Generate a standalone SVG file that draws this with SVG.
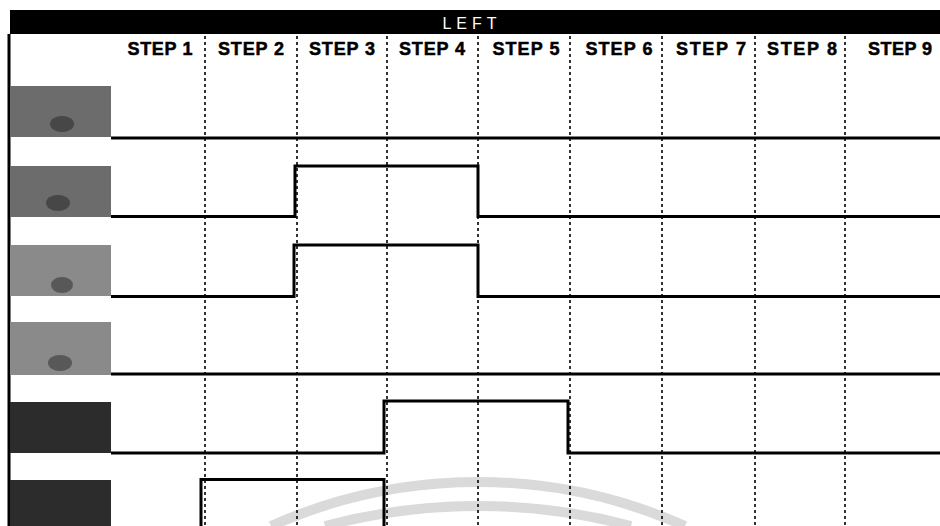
<svg xmlns="http://www.w3.org/2000/svg" width="940" height="526" viewBox="0 0 940 526">
<style>
.step{font-family:"Liberation Sans",Arial,sans-serif;font-weight:bold;font-size:18px;fill:#000;stroke:#000;stroke-width:0.5;text-anchor:middle}
.title{font-family:"Liberation Sans",Arial,sans-serif;font-size:16px;fill:#fff;text-anchor:middle;letter-spacing:5px}
.sep{stroke:#000;stroke-width:1.6;stroke-dasharray:3 3;fill:none}
.wave{stroke:#000;stroke-width:3;fill:none;stroke-linejoin:miter}
.wm{stroke:#dadada;stroke-width:10;fill:none}
.lab1{fill:#6c6c6c}
.lab2{fill:#8a8a8a}
.lab3{fill:#2c2c2c}
.blob{fill:#1a1a1a;opacity:0.45}
</style>
<rect width="940" height="526" fill="#fff"/>
<g id="watermark">
<path class="wm" d="M271,526 A509,509 0 0 1 685,526"/>
<path class="wm" d="M325,526 A595,595 0 0 1 631,526"/>
</g>
<g id="header">
<rect x="10" y="10" width="930" height="24" fill="#000"/>
<text class="title" x="472" y="29">LEFT</text>
<line x1="9" y1="34" x2="9" y2="526" stroke="#000" stroke-width="3"/>
</g>
<g id="steps">
<text class="step" x="160" y="55" textLength="65">STEP 1</text>
<text class="step" x="251" y="55" textLength="66">STEP 2</text>
<text class="step" x="342" y="55" textLength="66">STEP 3</text>
<text class="step" x="432" y="55" textLength="66">STEP 4</text>
<text class="step" x="526" y="55" textLength="67">STEP 5</text>
<text class="step" x="619" y="55" textLength="67">STEP 6</text>
<text class="step" x="711" y="55" textLength="70">STEP 7</text>
<text class="step" x="802" y="55" textLength="70">STEP 8</text>
<text class="step" x="900" y="55" textLength="64">STEP 9</text>
</g>
<g id="connectors">
<line class="sep" x1="205" y1="36" x2="205" y2="526"/>
<line class="sep" x1="297" y1="36" x2="297" y2="526"/>
<line class="sep" x1="387" y1="36" x2="387" y2="526"/>
<line class="sep" x1="478" y1="36" x2="478" y2="526"/>
<line class="sep" x1="570" y1="36" x2="570" y2="526"/>
<line class="sep" x1="662" y1="36" x2="662" y2="526"/>
<line class="sep" x1="755" y1="36" x2="755" y2="526"/>
<line class="sep" x1="845" y1="36" x2="845" y2="526"/>
</g>
<g id="row1">
<rect class="lab1" x="10" y="86" width="101" height="51"/>
<ellipse class="blob" cx="62" cy="124" rx="12" ry="8"/>
<path class="wave" d="M111,138 H940"/>
</g>
<g id="row2">
<rect class="lab1" x="10" y="166" width="101" height="51"/>
<ellipse class="blob" cx="58" cy="203" rx="12" ry="8"/>
<path class="wave" d="M111,216.5 H295 V166 H478 V216.5 H940"/>
</g>
<g id="row3">
<rect class="lab2" x="10" y="245" width="101" height="51"/>
<ellipse class="blob" cx="62" cy="285" rx="11" ry="8"/>
<path class="wave" d="M111,296.5 H294 V245 H478 V296.5 H940"/>
</g>
<g id="row4">
<rect class="lab2" x="10" y="322" width="101" height="53"/>
<ellipse class="blob" cx="60" cy="363" rx="12" ry="8"/>
<path class="wave" d="M111,374 H940"/>
</g>
<g id="row5">
<rect class="lab3" x="10" y="402" width="101" height="51"/>
<path class="wave" d="M111,453 H384 V401 H568 V453 H940"/>
</g>
<g id="row6">
<rect class="lab3" x="10" y="480" width="101" height="46"/>
<path class="wave" d="M201,528 V479.5 H384 V528"/>
</g>
</svg>
